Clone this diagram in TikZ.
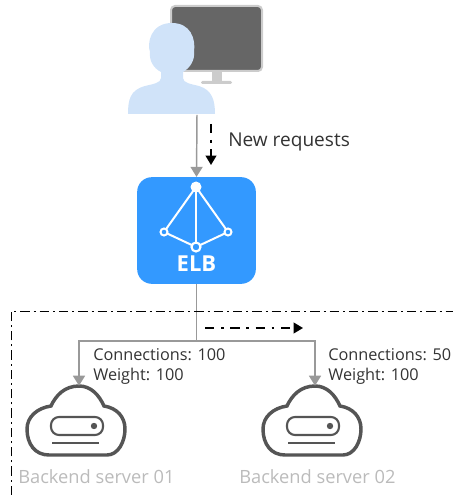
\documentclass[tikz,border=0pt]{standalone}
\usepackage{fontspec}
\setmainfont{Open Sans}
\usetikzlibrary{arrows.meta}

\definecolor{elbblue}{HTML}{3399FF}
\definecolor{userblue}{HTML}{D0E3F9}
\definecolor{linegray}{HTML}{999999}
\definecolor{clouddark}{HTML}{555555}
\definecolor{textgray}{HTML}{BBBBBB}
\definecolor{textdark}{HTML}{333333}

\tikzset{
  infotext/.style={inner sep=0pt, anchor=west, text=textdark, font=\fontsize{12.2}{14}\selectfont},
  newtext/.style={infotext, font=\fontsize{14.3}{16}\selectfont},
  servertext/.style={infotext, text=textgray, font=\fontsize{13.7}{16}\selectfont},
  link/.style={color=linegray, line width=1.1pt, -{Triangle[length=7.5pt,width=9pt]}},
  flow/.style={color=black, line width=1.3pt, dash pattern=on 7pt off 5pt on 2pt off 5pt, -{Triangle[length=7pt,width=8pt]}},
  cloud icon/.pic={
    \draw[color=clouddark, line width=2.6pt] (0,0) .. controls (-14,0) and (-23,9) .. (-28,20)
      .. controls (-42,22) and (-52,31) .. (-52,43) .. controls (-52,58) and (-44,69) .. (-30,69)
      -- (28,69) .. controls (39,69) and (46,56) .. (46,43)
      .. controls (46,31) and (38,22) .. (25,20) .. controls (20,9) and (12,0) .. (0,0) -- cycle;
    \draw[color=clouddark, line width=1.6pt, rounded corners=6pt] (-28,31) rectangle (24,49);
    \fill[color=clouddark] (15,40) circle (3.2);
    \draw[color=clouddark, line width=0.9pt] (-27,57) -- (20,57);
  }
}

\begin{document}
\begin{tikzpicture}[x=0.75pt, y=-0.75pt]

\useasboundingbox (0,0) rectangle (453,495);

% monitor
\fill[color=black!20] (212,70) rectangle (222,82);
\fill[color=black!20, rounded corners=1pt] (201,81) rectangle (232,84);
\draw[color=black!20, fill=black!60, line width=1.5pt, rounded corners=3pt] (171,6) rectangle (262,71);

% user
\fill[color=userblue] (128,114) .. controls (128,100) and (130,90) .. (145,86)
  .. controls (153,84) and (161,83) .. (161,78) -- (161,72)
  .. controls (153,68) and (149,60) .. (150,52) .. controls (147,44) and (150,23) .. (172,23)
  .. controls (190,23) and (196,38) .. (194,52) .. controls (195,60) and (190,68) .. (183,72)
  -- (183,78) .. controls (183,83) and (191,84) .. (199,86)
  .. controls (212,90) and (215,100) .. (215,114) -- cycle;
\node (user) at (197,114) [inner sep=0pt] {};

% ELB box
\node (elb) at (196.5,230.5) [fill=elbblue, rounded corners=11pt, minimum width=89pt, minimum height=80pt, inner sep=0pt] {};
\node (elb-text) at (196.5,264) [text=white, inner sep=0pt, font=\fontsize{16.5}{18}\selectfont\bfseries] {ELB};
\draw[color=white, line width=1.5pt] (196,187) -- (164,232) -- (196,247) -- (228,232) -- cycle;
\draw[color=white, line width=2pt] (196,187) -- (196,247);
\fill[color=white] (196,187) circle (5.5);
\draw[color=white, fill=elbblue, line width=1.5pt] (164,232) circle (3.5);
\draw[color=white, fill=elbblue, line width=1.5pt] (228,232) circle (3.5);
\draw[color=white, fill=elbblue, line width=1.6pt] (196,247) circle (4.5);

% servers
\node (server1) at (79,420.5) [minimum width=73pt, minimum height=51.75pt, inner sep=0pt] {};
\node (server2) at (315,420.5) [minimum width=73pt, minimum height=51.75pt, inner sep=0pt] {};
\pic at (79,386) {cloud icon};
\pic at (315,386) {cloud icon};

% text
\node (new) at (228,142) [newtext] {New requests};
\node (conn1) at (93,355) [infotext] {Connections: 100};
\node (weight1) at (93,376) [infotext] {Weight: 100};
\node (conn2) at (328,355) [infotext] {Connections: 50};
\node (weight2) at (328,376) [infotext] {Weight: 100};
\node (name1) at (18,477) [servertext] {Backend server 01};
\node (name2) at (239,477) [servertext] {Backend server 02};

% arrows
\coordinate (split) at (196.5,341);
\coordinate (in1) at (211,124);
\coordinate (in2) at (211,165);
\coordinate (out1) at (205,328);
\coordinate (out2) at (303,328);
\coordinate (box1) at (11,495);
\coordinate (box2) at (453,311);

\draw[link] (user) -- (elb.north);
\draw[color=linegray, line width=1.1pt] (elb.south) -- (split);
\draw[link] (split) -| (server1.north);
\draw[link] (split) -| (server2.north);
\draw[flow] (in1) -- (in2);
\draw[flow] (out1) -- (out2);

% backend group
\draw[color=black, line width=0.6pt, dash pattern=on 7pt off 3pt on 1.5pt off 3pt] (box1) |- (box2);

\end{tikzpicture}
\end{document}
